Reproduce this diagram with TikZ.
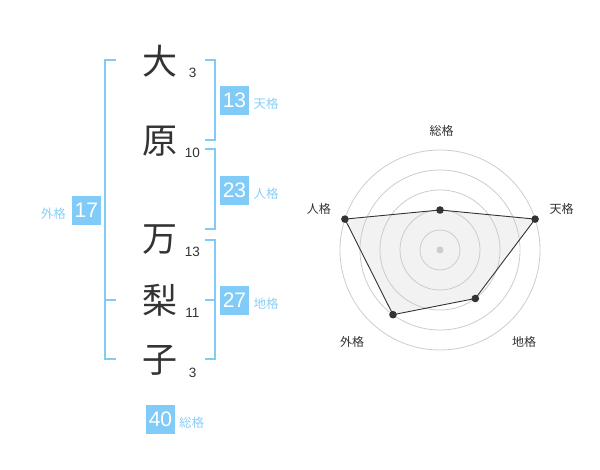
\documentclass[tikz,border=0pt]{standalone}
\usepackage{fontspec}
\setmainfont{Liberation Sans}
\newfontfamily\cjk{Noto Sans CJK JP}
\definecolor{bl}{HTML}{80CBF8}
\definecolor{blt}{HTML}{8ACFF7}
\definecolor{dk}{HTML}{333333}
\definecolor{ring}{HTML}{CCCCCC}
\definecolor{area}{HTML}{F2F2F2}
\begin{document}
\begin{tikzpicture}[x=1pt,y=-1pt,
  kanji/.style={font=\cjk\fontsize{35}{35}\selectfont, text=dk, inner sep=0},
  strokes/.style={font=\fontsize{13.5}{14}\selectfont, text=dk, inner sep=0},
  numbox/.style={fill=bl, text=white, minimum width=29, minimum height=29, inner sep=0, font=\fontsize{21}{21}\selectfont},
  gname/.style={font=\cjk\fontsize{12.5}{13}\selectfont, text=blt, inner sep=0},
  rlabel/.style={font=\cjk\fontsize{12}{12}\selectfont, text=dk, inner sep=0},
  brk/.style={draw=bl, line width=2},
  dotp/.style={fill=dk}]
\useasboundingbox (0,0) rectangle (600,470);
% name characters
\node[kanji] (k1) at (160,61.5) {大};
\node[kanji] (k2) at (160,141.5) {原};
\node[kanji] (k3) at (160,240) {万};
\node[kanji] (k4) at (160,300) {梨};
\node[kanji] (k5) at (160,360) {子};
\node[strokes] (s1) at (192.7,72.7) {3};
\node[strokes] (s2) at (192.3,153.3) {10};
\node[strokes] (s3) at (192.3,252.3) {13};
\node[strokes] (s4) at (192.3,312.7) {11};
\node[strokes] (s5) at (192.7,373.3) {3};
% brackets
\draw[brk] (116,60) -- (105,60) -- (105,359.5) -- (116,359.5);
\draw[brk] (105,300) -- (116,300);
\draw[brk] (205,60) -- (214.5,60) -- (214.5,140) -- (205,140);
\draw[brk] (205,149.5) -- (214.5,149.5) -- (214.5,229.5) -- (205,229.5);
\draw[brk] (205,240) -- (214.5,240) -- (214.5,359.5) -- (205,359.5);
\draw[brk] (205,300) -- (214.5,300);
% boxes
\node[numbox] (b13) at (234.5,100.3) {13};
\node[gname] (g13) at (266,104) {天格};
\node[numbox] (b23) at (234.5,190.3) {23};
\node[gname] (g23) at (266,193.7) {人格};
\node[numbox] (b17) at (86.3,210.3) {17};
\node[gname] (g17) at (53.3,213.3) {外格};
\node[numbox] (b27) at (234.5,300.3) {27};
\node[gname] (g27) at (266,303.3) {地格};
\node[numbox] (b40) at (160.5,419.3) {40};
\node[gname] (g40) at (191.7,422.3) {総格};
% radar
\coordinate (c) at (440,250);
\coordinate (p1) at (440,210);
\coordinate (p2) at (535.1,219.1);
\coordinate (p3) at (475.3,298.5);
\coordinate (p4) at (393,314.7);
\coordinate (p5) at (344.9,219.1);
\fill[area] (p1) -- (p2) -- (p3) -- (p4) -- (p5) -- cycle;
\foreach \r in {20,40,60,80,100} \draw[ring, line width=0.8] (c) circle[radius=\r];
\fill[ring] (c) circle[radius=3.5];
\draw[dk, line width=0.9] (p1) -- (p2) -- (p3) -- (p4) -- (p5) -- cycle;
\foreach \p in {p1,p2,p3,p4,p5} \fill[dotp] (\p) circle[radius=3.8];
\node[rlabel] (l1) at (441.7,130.7) {総格};
\node[rlabel] (l2) at (561.7,209) {天格};
\node[rlabel] (l3) at (524,341.7) {地格};
\node[rlabel] (l4) at (352,341.7) {外格};
\node[rlabel] (l5) at (318.8,209) {人格};
\end{tikzpicture}
\end{document}
